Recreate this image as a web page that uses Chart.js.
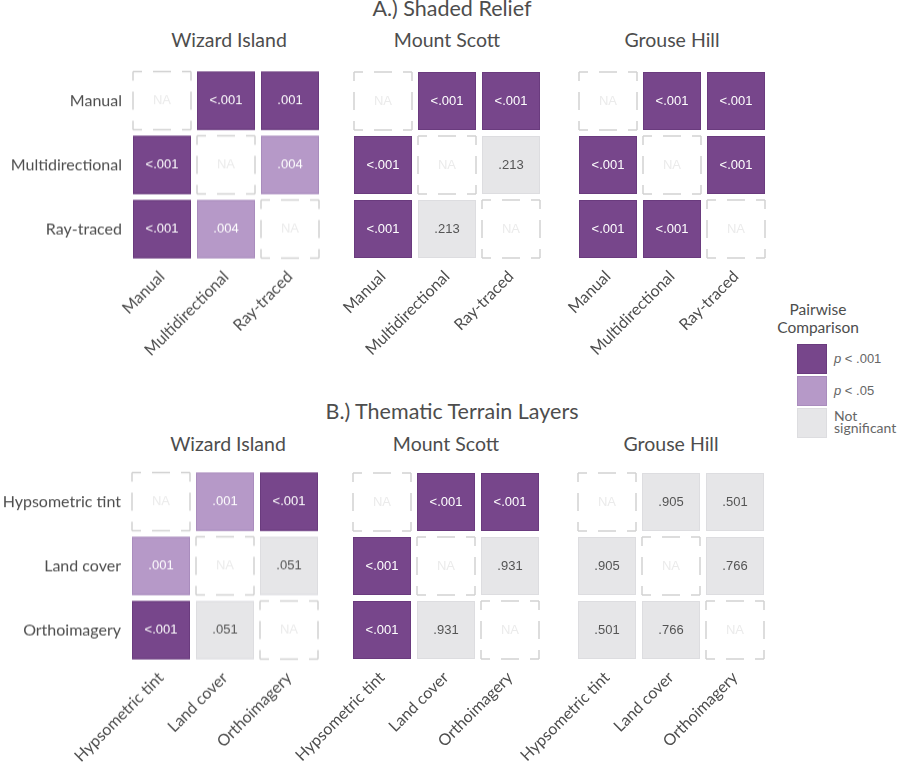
<!DOCTYPE html>
<html>
<head>
<meta charset="utf-8">
<script src="https://cdn.jsdelivr.net/npm/chart.js@4.4.0/dist/chart.umd.min.js"></script>
<style>
  body { margin: 0; background: #fff; font-family: Lato, sans-serif; color: #4d4d4d; }
  #page { position: relative; width: 900px; height: 763px; overflow: hidden; }
  .t { position: absolute; white-space: nowrap; transform: translateX(-50%); line-height: 1; }
  .panel { position: absolute; }
  .sw { position: absolute; width: 30px; height: 30px; box-sizing: border-box; }
  .lg { position: absolute; font-family: "Liberation Sans", Arial, sans-serif; font-size: 13px; color: #666; white-space: nowrap; }
</style>
</head>
<body>
<div id="page">
  <div class="t" style="left:452px; top:-2px; font-size:21.5px;">A.) Shaded Relief</div>
  <div class="t" style="left:452px; top:401px; font-size:21.5px;">B.) Thematic Terrain Layers</div>
  <div class="t" style="left:818px; top:300px; font-size:15.5px; line-height:18px; text-align:center;">Pairwise<br>Comparison</div>
</div>
<script>
const sites = ['Wizard Island', 'Mount Scott', 'Grouse Hill'];
const reliefMethods = ['Manual', 'Multidirectional', 'Ray-traced'];
const terrainLayers = ['Hypsometric tint', 'Land cover', 'Orthoimagery'];

// p-value labels per site, row by row (null = same method, NA)
const reliefP = [
    [[null, '<.001', '.001'], ['<.001', null, '.004'], ['<.001', '.004', null]],
    [[null, '<.001', '<.001'], ['<.001', null, '.213'], ['<.001', '.213', null]],
    [[null, '<.001', '<.001'], ['<.001', null, '<.001'], ['<.001', '<.001', null]]
];
// 0 = p < .001, 1 = p < .05, 2 = not significant
const reliefLevel = [
    [[null, 0, 0], [0, null, 1], [0, 1, null]],
    [[null, 0, 0], [0, null, 2], [0, 2, null]],
    [[null, 0, 0], [0, null, 0], [0, 0, null]]
];
const terrainP = [
    [[null, '.001', '<.001'], ['.001', null, '.051'], ['<.001', '.051', null]],
    [[null, '<.001', '<.001'], ['<.001', null, '.931'], ['<.001', '.931', null]],
    [[null, '.905', '.501'], ['.905', null, '.766'], ['.501', '.766', null]]
];
const terrainLevel = [
    [[null, 1, 0], [1, null, 2], [0, 2, null]],
    [[null, 0, 0], [0, null, 2], [0, 2, null]],
    [[null, 2, 2], [2, null, 2], [2, 2, null]]
];

const levelNames = ['p < .001', 'p < .05', 'Not significant'];
const levelColors = ['#77468b', '#b699c8', '#e6e6e8'];
const levelBorders = ['#6a3b7e', '#a98cbd', '#dddde0'];
const levelText = ['#ffffff', '#ffffff', '#555555'];

const Y_AXIS_W = 130;
const X_AXIS_H = 125;
const AREA = 192;

const page = document.getElementById('page');

// chart-area top-left for each panel
const reliefPos = [[130, 69], [351, 69], [576, 69]];
const terrainPos = [[129, 470], [350, 470], [575, 470]];
const reliefTitleX = [229, 447, 672];
const terrainTitleX = [228, 446, 671];

const cellPlugin = {
    id: 'cells',
    afterDatasetsDraw(chart) {
        const ctx = chart.ctx;
        const xs = chart.scales.x;
        const step = Math.abs(xs.getPixelForValue(1) - xs.getPixelForValue(0));
        const size = step - 6;
        const h = size / 2;
        const meta = chart.getDatasetMeta(0);
        const pts = chart.data.datasets[0].data;
        ctx.save();
        meta.data.forEach((el, i) => {
            const d = pts[i];
            const x0 = el.x - h, y0 = el.y - h;
            ctx.textAlign = 'center';
            ctx.textBaseline = 'middle';
            if (d.level === null) {
                ctx.strokeStyle = '#d2d2d2';
                ctx.lineWidth = 1.5;
                const k = size / 58;
                ctx.setLineDash([9 * k, 11 * k, 18 * k, 11 * k, 9 * k]);
                const corners = [[x0, y0], [x0 + size, y0], [x0 + size, y0 + size], [x0, y0 + size]];
                for (let s = 0; s < 4; s++) {
                    const a = corners[s], b = corners[(s + 1) % 4];
                    ctx.beginPath();
                    ctx.moveTo(a[0], a[1]);
                    ctx.lineTo(b[0], b[1]);
                    ctx.stroke();
                }
                ctx.setLineDash([]);
                ctx.fillStyle = '#ebebeb';
                ctx.font = '13px "Liberation Sans", Arial, sans-serif';
                ctx.fillText('NA', el.x, el.y);
            } else {
                ctx.fillStyle = levelColors[d.level];
                ctx.fillRect(x0, y0, size, size);
                ctx.strokeStyle = levelBorders[d.level];
                ctx.lineWidth = 1;
                ctx.strokeRect(x0 + 0.5, y0 + 0.5, size - 1, size - 1);
                ctx.fillStyle = levelText[d.level];
                ctx.font = '13px "Liberation Sans", Arial, sans-serif';
                ctx.fillText(d.p, el.x, el.y);
            }
        });
        ctx.restore();
    }
};

function makePanel(pos, cats, pLabels, levels, showY) {
    const div = document.createElement('div');
    div.className = 'panel';
    div.style.left = (pos[0] - Y_AXIS_W) + 'px';
    div.style.top = pos[1] + 'px';
    div.style.width = (Y_AXIS_W + AREA) + 'px';
    div.style.height = (AREA + X_AXIS_H) + 'px';
    const canvas = document.createElement('canvas');
    div.appendChild(canvas);
    page.appendChild(div);

    const points = [];
    cats.forEach((rowCat, r) => {
        cats.forEach((colCat, c) => {
            points.push({ x: colCat, y: rowCat, p: pLabels[r][c], level: levels[r][c] });
        });
    });

    const chart = new Chart(canvas, {
        type: 'scatter',
        data: {
            datasets: [{ data: points, pointRadius: 0, pointHoverRadius: 0 }]
        },
        options: {
            responsive: true,
            maintainAspectRatio: false,
            animation: false,
            layout: { padding: 0 },
            plugins: { legend: { display: false }, tooltip: { enabled: false } },
            scales: {
                x: {
                    type: 'category',
                    labels: cats,
                    offset: true,
                    grid: { display: false, drawTicks: false },
                    border: { display: false },
                    ticks: {
                        minRotation: 45,
                        maxRotation: 45,
                        autoSkip: false,
                        padding: 6,
                        color: '#4d4d4d',
                        font: { family: 'Lato', size: 16 }
                    },
                    afterFit(scale) { scale.height = X_AXIS_H; }
                },
                y: {
                    type: 'category',
                    labels: cats,
                    offset: true,
                    grid: { display: false, drawTicks: false },
                    border: { display: false },
                    ticks: {
                        display: showY,
                        padding: 8,
                        color: '#4d4d4d',
                        font: { family: 'Lato', size: 16 }
                    },
                    afterFit(scale) { scale.width = Y_AXIS_W; }
                }
            }
        },
        plugins: [cellPlugin]
    });

    // shift the canvas so the plot area lands where the panel belongs
    const padTop = chart.chartArea.top;
    if (padTop > 0) {
        div.style.top = (pos[1] - padTop) + 'px';
        div.style.height = (AREA + X_AXIS_H + padTop) + 'px';
        chart.resize();
    }
    return chart;
}

function addText(html, left, top, size) {
    const el = document.createElement('div');
    el.className = 't';
    el.style.left = left + 'px';
    el.style.top = top + 'px';
    el.style.fontSize = size + 'px';
    el.innerHTML = html;
    page.appendChild(el);
}

sites.forEach((site, i) => {
    addText(site, reliefTitleX[i], 30, 19.5);
    makePanel(reliefPos[i], reliefMethods, reliefP[i], reliefLevel[i], i === 0);
    addText(site, terrainTitleX[i], 434, 19.5);
    makePanel(terrainPos[i], terrainLayers, terrainP[i], terrainLevel[i], i === 0);
});

// legend
const legendTop = [344, 376, 408];
levelNames.forEach((name, i) => {
    const sw = document.createElement('div');
    sw.className = 'sw';
    sw.style.left = '797px';
    sw.style.top = legendTop[i] + 'px';
    sw.style.background = levelColors[i];
    sw.style.border = '1px solid ' + levelBorders[i];
    page.appendChild(sw);
    const lg = document.createElement('div');
    lg.className = 'lg';
    lg.style.left = '834px';
    if (i < 2) {
        lg.style.top = (legendTop[i] + 7) + 'px';
        lg.innerHTML = '<i>p</i>' + name.slice(1);
    } else {
        lg.style.top = (legendTop[i] + 2) + 'px';
        lg.style.fontFamily = 'Lato, sans-serif';
        lg.style.fontSize = '14px';
        lg.style.lineHeight = '12px';
        lg.innerHTML = 'Not<br>significant';
    }
    page.appendChild(lg);
});
</script>
</body>
</html>
